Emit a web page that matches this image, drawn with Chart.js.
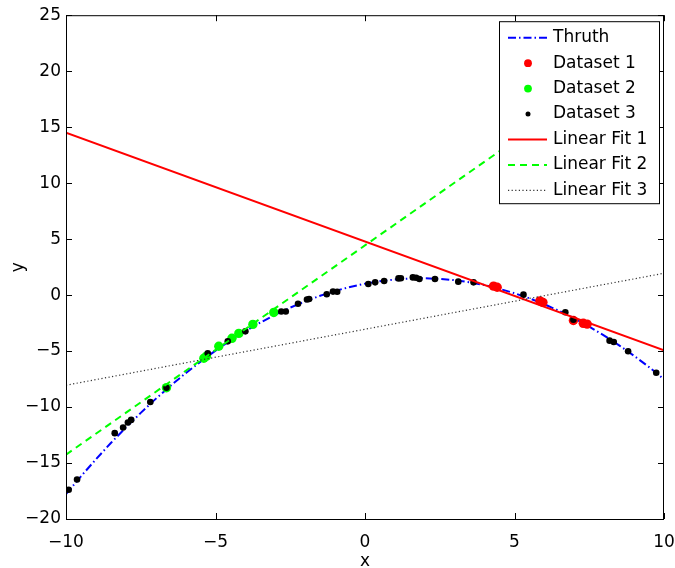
<!DOCTYPE html>
<html><head><meta charset="utf-8">
<script src="https://cdn.jsdelivr.net/npm/chart.js@4.4.1/dist/chart.umd.min.js"></script>
<style>html,body{margin:0;padding:0;background:#fff}</style>
</head><body>
<canvas id="c" width="675" height="568" style="display:block;width:675px;height:568px"></canvas>
<script>
// ---- data ----
const truthX = [-10,-9.5,-9,-8.5,-8,-7.5,-7,-6.5,-6,-5.5,-5,-4.5,-4,-3.5,-3,-2.5,-2,-1.5,-1,-0.5,0,0.5,1,1.5,2,2.5,3,3.5,4,4.5,5,5.5,6,6.5,7,7.5,8,8.5,9,9.5,10];
const truthY = [-17.78,-16.19,-14.67,-13.21,-11.83,-10.52,-9.27,-8.09,-6.98,-5.94,-4.96,-4.06,-3.22,-2.45,-1.75,-1.12,-0.56,-0.06,0.37,0.73,1.02,1.24,1.39,1.48,1.50,1.45,1.33,1.14,0.89,0.56,0.17,-0.29,-0.82,-1.42,-2.08,-2.82,-3.62,-4.49,-5.43,-6.43,-7.51];

const d1X = [4.30,4.42,5.85,5.95,6.97,7.30,7.43];
const d1Y = [0.80,0.70,-0.52,-0.65,-2.27,-2.52,-2.59];

const d2X = [-6.64,-5.39,-5.30,-4.89,-4.45,-4.22,-3.75,-3.05];
const d2Y = [-8.27,-5.64,-5.45,-4.57,-3.86,-3.42,-2.62,-1.55];

const d3X = [-9.91,-9.63,-8.37,-8.09,-7.93,-7.82,-7.18,-6.64,-5.26,-4.59,-4.0,-2.8,-2.65,-2.24,-1.94,-1.87,-1.28,-1.07,-0.93,0.11,0.34,0.64,1.12,1.2,1.6,1.71,1.82,2.34,3.12,3.63,5.3,6.7,6.97,8.18,8.32,8.8,9.74];
const d3Y = [-17.39,-16.47,-12.33,-11.83,-11.38,-11.15,-9.55,-8.27,-5.2,-4.13,-3.24,-1.47,-1.47,-0.77,-0.4,-0.35,0.07,0.31,0.3,0.99,1.14,1.26,1.49,1.5,1.58,1.55,1.44,1.44,1.2,1.14,0.04,-1.53,-2.2,-4.07,-4.19,-5.02,-6.94];

const fit1X = [-10,10];  const fit1Y = [14.5,-4.93];
const fit2X = [-10,9.5]; const fit2Y = [-14.25,22.2];
const fit3X = [-10,10];  const fit3Y = [-8.05,1.95];

const xTickLabels = ['\u221210','\u22125','0','5','10'];
const yTickLabels = ['\u221220','\u221215','\u221210','\u22125','0','5','10','15','20','25'];
const seriesNames = ['Thruth','Dataset 1','Dataset 2','Dataset 3','Linear Fit 1','Linear Fit 2','Linear Fit 3'];

// ---- build ----
const pts = (xs, ys) => xs.map((x, i) => ({x: x, y: ys[i]}));
const FONT = {family: "'DejaVu Sans', sans-serif", size: 17};

function lineDs(label, xs, ys, color, width, dash, order) {
  return {label, data: pts(xs, ys), showLine: true, borderColor: color, borderWidth: width,
          borderDash: dash, pointRadius: 0, tension: 0, order, kind: 'line'};
}
function dotDs(label, xs, ys, color, r, order) {
  return {label, data: pts(xs, ys), showLine: false, pointRadius: r, pointBackgroundColor: color,
          pointBorderWidth: 0, borderColor: color, backgroundColor: color, order, kind: 'dot', legendR: r - 0.8};
}

const datasets = [
  lineDs(seriesNames[0], truthX, truthY, '#0000ff', 2, [8,3,1.5,3], 7),
  dotDs(seriesNames[1], d1X, d1Y, '#ff0000', 4.7, 6),
  dotDs(seriesNames[2], d2X, d2Y, '#00ff00', 4.7, 5),
  dotDs(seriesNames[3], d3X, d3Y, '#000000', 3.3, 4),
  lineDs(seriesNames[4], fit1X, fit1Y, '#ff0000', 2, [], 3),
  lineDs(seriesNames[5], fit2X, fit2Y, '#00ff00', 2, [7,5], 2),
  lineDs(seriesNames[6], fit3X, fit3Y, '#333333', 1.2, [1.2,2.4], 1)
];

const framePlugin = {
  id: 'frame',
  afterDraw(chart) {
    const {ctx, chartArea: a, scales: {x, y}} = chart;
    ctx.save();
    ctx.strokeStyle = '#000';
    ctx.lineWidth = 1;
    ctx.setLineDash([]);
    ctx.strokeRect(a.left + 0.5, a.top + 0.5, a.right - a.left - 1, a.bottom - a.top);
    const tl = 6;
    ctx.beginPath();
    x.ticks.forEach(t => {
      const px = Math.round(x.getPixelForValue(t.value)) + 0.5;
      ctx.moveTo(px, a.bottom); ctx.lineTo(px, a.bottom - tl);
      ctx.moveTo(px, a.top); ctx.lineTo(px, a.top + tl);
    });
    y.ticks.forEach(t => {
      const py = Math.round(y.getPixelForValue(t.value)) + 0.5;
      ctx.moveTo(a.left, py); ctx.lineTo(a.left + tl, py);
      ctx.moveTo(a.right, py); ctx.lineTo(a.right - tl, py);
    });
    ctx.stroke();

    // legend box (top-right, inside plot)
    const bw = 160, bh = 182;
    const bx = a.right - 5 - bw, by = a.top + 6;
    ctx.fillStyle = '#fff';
    ctx.fillRect(bx, by, bw, bh);
    ctx.strokeRect(bx + 0.5, by + 0.5, bw, bh);
    ctx.font = FONT.size + 'px ' + FONT.family;
    ctx.textBaseline = 'middle';
    ctx.textAlign = 'left';
    chart.data.datasets.forEach((ds, i) => {
      const cy = by + 16.5 + i * 25.45;
      if (ds.kind === 'line') {
        ctx.strokeStyle = ds.borderColor;
        ctx.lineWidth = ds.borderWidth;
        ctx.setLineDash(ds.borderDash || []);
        ctx.beginPath();
        ctx.moveTo(bx + 9, cy); ctx.lineTo(bx + 48, cy);
        ctx.stroke();
        ctx.setLineDash([]);
      } else {
        ctx.fillStyle = ds.pointBackgroundColor;
        ctx.beginPath();
        ctx.arc(bx + 29, cy, ds.legendR, 0, Math.PI * 2);
        ctx.fill();
      }
      ctx.fillStyle = '#000';
      ctx.fillText(ds.label, bx + 54, cy);
    });
    ctx.restore();
  }
};

new Chart(document.getElementById('c'), {
  type: 'scatter',
  data: {datasets},
  options: {
    responsive: false,
    animation: false,
    devicePixelRatio: 1,
    layout: {padding: {left: 0, right: 11, top: 12, bottom: 0}},
    plugins: {legend: {display: false}, tooltip: {enabled: false}},
    scales: {
      x: {
        type: 'linear', min: -10, max: 10,
        grid: {display: false, drawTicks: false},
        border: {display: false},
        ticks: {stepSize: 5, padding: 13, color: '#000', font: FONT, maxRotation: 0,
                callback: (v, i) => xTickLabels[i]},
        title: {display: true, text: 'x', color: '#000', font: FONT, padding: {top: 0, bottom: -4}},
        afterFit(s) { s.height = 49; s.paddingLeft = 0; s.paddingRight = 0; }
      },
      y: {
        type: 'linear', min: -20, max: 25,
        grid: {display: false, drawTicks: false},
        border: {display: false},
        ticks: {stepSize: 5, padding: 5, color: '#000', font: FONT,
                callback: (v, i) => yTickLabels[i]},
        title: {display: true, text: 'y', color: '#000', font: FONT, padding: {top: 8, bottom: 0}},
        afterFit(s) { s.width = 66; }
      }
    }
  },
  plugins: [framePlugin]
});
</script>
</body></html>
